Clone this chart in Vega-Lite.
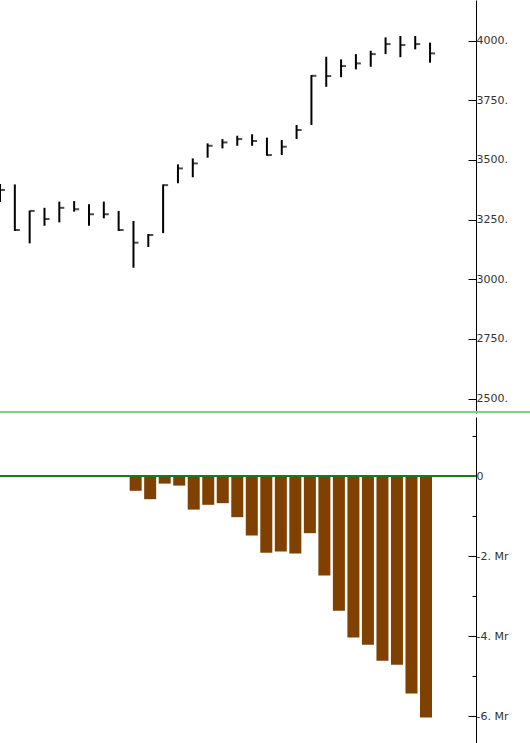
{
  "$schema": "https://vega.github.io/schema/vega-lite/v6.json",
  "padding": 0,
  "background": "white",
  "spacing": 4,
  "config": {
    "view": {"stroke": null},
    "axis": {
      "labelFont": "DejaVu Sans",
      "labelFontSize": 11,
      "labelColor": "#333333",
      "domainColor": "#000000",
      "domainWidth": 1,
      "tickColor": "#000000",
      "tickWidth": 1,
      "grid": false,
      "title": null
    }
  },
  "datasets": {
    "bars": [
      {"i": 0, "high": 3399, "low": 3323, "close": 3374, "vol": 0},
      {"i": 1, "high": 3397, "low": 3202, "close": 3206, "vol": 0},
      {"i": 2, "high": 3287, "low": 3150, "close": 3286, "vol": 0},
      {"i": 3, "high": 3299, "low": 3224, "close": 3252, "vol": 0},
      {"i": 4, "high": 3325, "low": 3238, "close": 3299, "vol": 0},
      {"i": 5, "high": 3327, "low": 3283, "close": 3293, "vol": 0},
      {"i": 6, "high": 3314, "low": 3224, "close": 3272, "vol": 0},
      {"i": 7, "high": 3325, "low": 3255, "close": 3272, "vol": 0},
      {"i": 8, "high": 3286, "low": 3202, "close": 3206, "vol": 0},
      {"i": 9, "high": 3244, "low": 3048, "close": 3153, "vol": -370000},
      {"i": 10, "high": 3189, "low": 3135, "close": 3185, "vol": -580000},
      {"i": 11, "high": 3397, "low": 3193, "close": 3394, "vol": -190000},
      {"i": 12, "high": 3481, "low": 3402, "close": 3464, "vol": -240000},
      {"i": 13, "high": 3506, "low": 3427, "close": 3485, "vol": -840000},
      {"i": 14, "high": 3569, "low": 3509, "close": 3559, "vol": -720000},
      {"i": 15, "high": 3587, "low": 3548, "close": 3573, "vol": -680000},
      {"i": 16, "high": 3601, "low": 3559, "close": 3587, "vol": -1030000},
      {"i": 17, "high": 3607, "low": 3559, "close": 3579, "vol": -1490000},
      {"i": 18, "high": 3593, "low": 3517, "close": 3520, "vol": -1920000},
      {"i": 19, "high": 3583, "low": 3520, "close": 3555, "vol": -1890000},
      {"i": 20, "high": 3646, "low": 3587, "close": 3625, "vol": -1940000},
      {"i": 21, "high": 3855, "low": 3646, "close": 3852, "vol": -1430000},
      {"i": 22, "high": 3932, "low": 3806, "close": 3851, "vol": -2490000},
      {"i": 23, "high": 3921, "low": 3846, "close": 3893, "vol": -3370000},
      {"i": 24, "high": 3943, "low": 3879, "close": 3904, "vol": -4040000},
      {"i": 25, "high": 3957, "low": 3890, "close": 3943, "vol": -4220000},
      {"i": 26, "high": 4013, "low": 3943, "close": 3985, "vol": -4620000},
      {"i": 27, "high": 4019, "low": 3930, "close": 3981, "vol": -4720000},
      {"i": 28, "high": 4019, "low": 3963, "close": 3985, "vol": -5440000},
      {"i": 29, "high": 3991, "low": 3907, "close": 3946, "vol": -6040000}
    ]
  },
  "vconcat": [
    {
      "width": 530,
      "height": 413,
      "data": {"name": "bars"},
      "layer": [
        {
          "mark": {"type": "rule", "color": "#000000", "strokeWidth": 2, "clip": true},
          "encoding": {
            "x": {"field": "i", "type": "quantitative", "scale": {"domain": [0, 35.74], "nice": false, "zero": false}, "axis": null},
            "y": {
              "field": "low", "type": "quantitative",
              "scale": {"domain": [2439.3, 4169.7], "nice": false, "zero": false},
              "axis": {
                "orient": "right",
                "offset": -54,
                "values": [2500, 2625, 2750, 2875, 3000, 3125, 3250, 3375, 3500, 3625, 3750, 3875, 4000, 4125],
                "labelExpr": "datum.value % 250 == 0 ? datum.value + '.' : ''",
                "tickSize": {"condition": {"test": "datum.value % 250 == 0", "value": -8}, "value": -4},
                "labelPadding": 8,
                "labelAlign": "left",
                "labelBaseline": "middle"
              }
            },
            "y2": {"field": "high"}
          }
        },
        {
          "mark": {"type": "tick", "orient": "horizontal", "size": 5, "thickness": 2, "xOffset": 2.5, "color": "#000000", "clip": true},
          "encoding": {
            "x": {"field": "i", "type": "quantitative"},
            "y": {"field": "close", "type": "quantitative"}
          }
        },
        {
          "data": {"values": [{}]},
          "mark": {"type": "rule", "color": "#88cc88", "strokeWidth": 2, "clip": true},
          "encoding": {"y": {"datum": 2443.5}}
        }
      ]
    },
    {
      "width": 476,
      "height": 326,
      "data": {"name": "bars"},
      "layer": [
        {
          "transform": [{"filter": "datum.vol != 0"}],
          "mark": {"type": "bar", "color": "#804000", "size": 12, "clip": true},
          "encoding": {
            "x": {"field": "i", "type": "quantitative", "scale": {"domain": [0, 32.1], "nice": false, "zero": false}, "axis": null},
            "y": {
              "field": "vol", "type": "quantitative",
              "scale": {"domain": [-6675000, 1475000], "nice": false},
              "axis": {
                "orient": "right",
                "values": [1000000, 0, -1000000, -2000000, -3000000, -4000000, -5000000, -6000000],
                "labelExpr": "datum.value == 0 ? '0' : (datum.value % 2000000 == 0 ? (datum.value / 1000000) + '. Mr' : '')",
                "tickSize": {"condition": {"test": "datum.value % 2000000 == 0", "value": -8}, "value": -4},
                "labelPadding": 8,
                "labelAlign": "left",
                "labelBaseline": "middle"
              }
            }
          }
        },
        {
          "data": {"values": [{}]},
          "mark": {"type": "rule", "color": "#1a7a1a", "strokeWidth": 2, "clip": true},
          "encoding": {"y": {"datum": 0}}
        }
      ]
    }
  ]
}
